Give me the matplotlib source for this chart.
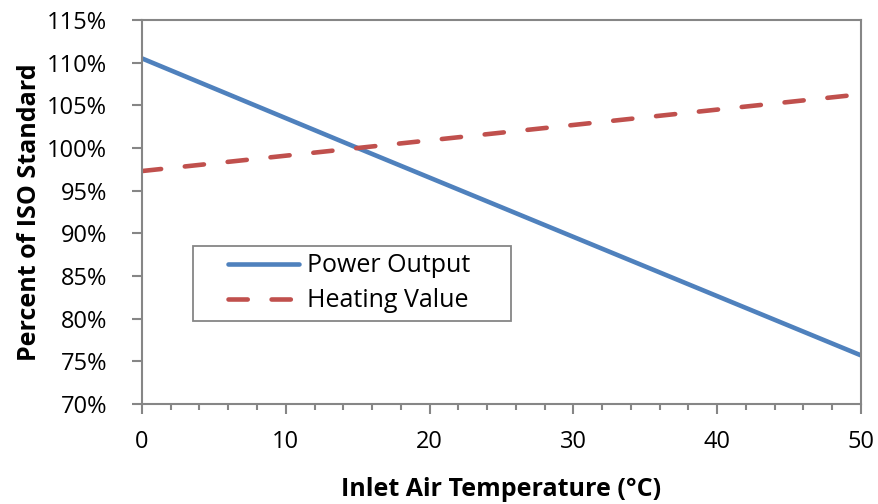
import matplotlib.pyplot as plt
from matplotlib.ticker import MultipleLocator, FuncFormatter
from matplotlib.legend_handler import HandlerLine2D

plt.rcParams['font.family'] = ['Open Sans', 'DejaVu Sans']

# inlet temperature (C) and output relative to ISO conditions (%)
temp = [0, 15, 50]
power_output = [110.5, 100.0, 75.7]
heating_value = [97.3, 100.0, 106.3]

blue = '#4F81BD'
red = '#C0504D'
grey = '#868686'

fig = plt.figure(figsize=(8.79, 5.04), dpi=100)
ax = fig.add_axes([0.1615, 0.1984, 0.818, 0.7619])

ax.plot(temp, power_output, color=blue, lw=3.3, label='Power Output',
        solid_capstyle='round')
ax.plot(temp, heating_value, color=red, lw=3.3, label='Heating Value',
        dashes=(4.2, 5.2), dash_capstyle='round')

ax.set_xlim(0, 50)
ax.set_ylim(70, 115)
ax.xaxis.set_major_locator(MultipleLocator(10))
ax.xaxis.set_minor_locator(MultipleLocator(2))
ax.yaxis.set_major_locator(MultipleLocator(5))
ax.yaxis.set_major_formatter(FuncFormatter(lambda v, p: '%d%%' % v))

for s in ax.spines.values():
    s.set_color(grey)
    s.set_linewidth(1.5)
ax.tick_params(axis='both', which='major', direction='out', length=7,
               width=1.5, color=grey, labelsize=17)
ax.tick_params(axis='y', which='major', pad=18)
ax.tick_params(axis='x', which='major', pad=12)
ax.tick_params(axis='x', which='minor', direction='out', length=4.5,
               width=1.5, color=grey)

ax.set_xlabel('Inlet Air Temperature (°C)', fontsize=18, fontweight='bold')
ax.set_ylabel('Percent of ISO Standard', fontsize=18, fontweight='bold')
ax.xaxis.set_label_coords(0.5, -0.19)
ax.yaxis.set_label_coords(-0.139, 0.5)

# legend box stretched to a fixed width, handles inset from the frame
leg = ax.legend(loc='upper left', bbox_to_anchor=(0.0709, 0.211, 0.4423, 0.2005),
                mode='expand', fontsize=18, frameon=True, fancybox=False,
                framealpha=1, handlelength=3.95, borderpad=0.3,
                labelspacing=0.4, handletextpad=0.33, borderaxespad=0,
                handler_map={plt.Line2D: HandlerLine2D(xpad=1.1)})
leg.get_frame().set_edgecolor(grey)
leg.get_frame().set_linewidth(1.3)

fig.savefig('out.png', dpi=100)
